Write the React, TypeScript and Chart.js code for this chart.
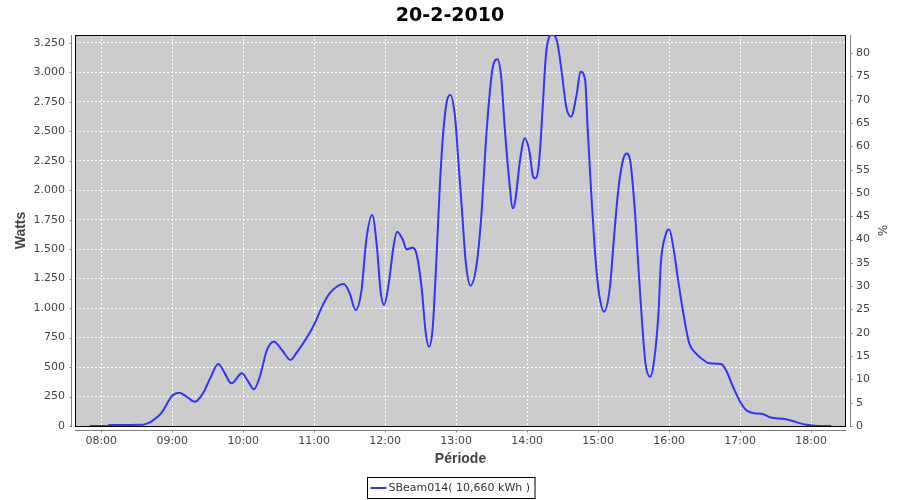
import React, { useEffect, useRef } from 'react';
import { Chart, registerables } from 'chart.js';

Chart.register(...registerables);

const TITLE = '20-2-2010';
const X_TITLE = 'Période';
const Y_TITLE = 'Watts';
const Y2_TITLE = '%';
const SERIES_NAME = 'SBeam014';
const SERIES_TOTAL = '10,660 kWh';

const TIMES = [
  '07:50', '08:05', '08:07', '08:34', '08:38', '08:42', '08:46', '08:50', '08:54', '08:57',
  '09:00', '09:06', '09:12', '09:19', '09:26', '09:32', '09:39', '09:44', '09:50', '09:59',
  '10:04', '10:09', '10:14', '10:20', '10:26', '10:33', '10:40', '10:45', '10:51', '10:59',
  '11:08', '11:13', '11:25', '11:30', '11:35', '11:40', '11:44', '11:49', '11:53', '11:56',
  '11:59', '12:03', '12:07', '12:10', '12:15', '12:18', '12:23', '12:26', '12:31', '12:34',
  '12:37', '12:40', '12:43', '12:46', '12:49', '12:52', '12:55', '12:59', '13:02', '13:05',
  '13:08', '13:12', '13:17', '13:21', '13:26', '13:31', '13:35', '13:38', '13:41', '13:44',
  '13:48', '13:50', '13:54', '13:58', '14:02', '14:05', '14:07', '14:10', '14:13', '14:16',
  '14:21', '14:25', '14:29', '14:33', '14:37', '14:42', '14:45', '14:49', '14:51', '14:54',
  '14:57', '15:00', '15:02', '15:05', '15:10', '15:13', '15:17', '15:21', '15:24', '15:27',
  '15:31', '15:34', '15:37', '15:40', '15:44', '15:47', '15:51', '15:53', '15:57', '16:00',
  '16:03', '16:08', '16:12', '16:17', '16:22', '16:31', '16:34', '16:44', '16:48', '16:54',
  '17:00', '17:05', '17:12', '17:19', '17:25', '17:39', '17:48', '17:56', '18:03', '18:17',
];

const WATTS = [
  0, 0, 8, 10, 18, 35, 65, 100, 160, 215,
  258, 282, 250, 206, 277, 404, 526, 455, 362, 447,
  380, 311, 418, 644, 715, 640, 560, 620, 706, 842,
  1040, 1125, 1204, 1125, 984, 1153, 1577, 1789, 1520, 1153,
  1026, 1210, 1520, 1648, 1577, 1498, 1512, 1478, 1153, 814,
  673, 814, 1351, 2000, 2482, 2750, 2807, 2623, 2227, 1817,
  1400, 1190, 1351, 1747, 2538, 3047, 3110, 2962, 2538, 2171,
  1846, 1917, 2256, 2440, 2326, 2114, 2100, 2227, 2680, 3160,
  3320, 3273, 3019, 2708, 2623, 2821, 3005, 2934, 2550, 2001,
  1520, 1180, 1050, 969, 1181, 1549, 2001, 2256, 2312, 2256,
  1832, 1351, 899, 532, 418, 532, 956, 1380, 1620, 1668,
  1549, 1210, 956, 701, 622, 545, 532, 526, 475, 333,
  206, 136, 108, 102, 74, 57, 31, 11, 3, 0,
];

const X_MIN_MINUTES = 457.8;
const X_MAX_MINUTES = 1109.5;
const Y_MAX_WATTS = 3316;
const Y2_MAX_PCT = 83.9;

const toMinutes = (s: string) => {
  const [h, m] = s.split(':').map(Number);
  return h * 60 + m;
};
const fmtTime = (v: number) => {
  const h = Math.floor(v / 60);
  const m = Math.round(v - h * 60);
  return `${String(h).padStart(2, '0')}:${String(m).padStart(2, '0')}`;
};
const fmtThousands = (v: number) =>
  v >= 1000 ? `${Math.floor(v / 1000)}.${String(v % 1000).padStart(3, '0')}` : String(v);

const TICK_FONT = { family: 'DejaVu Sans', size: 11 };
const TICK_COLOR = '#444444';
const AXIS_TITLE_FONT = { family: 'Liberation Sans', size: 14, weight: 'bold' as const };
const AXIS_COLOR = '#808080';

const framePlugin = {
  id: 'frame',
  beforeDraw(chart: any) {
    const { ctx, chartArea } = chart;
    const { left, top, right, bottom } = chartArea;
    ctx.save();
    ctx.fillStyle = '#ffffff';
    ctx.fillRect(0, 0, chart.width, chart.height);
    ctx.fillStyle = '#CCCCCC';
    ctx.fillRect(left, top, right - left, bottom - top);
    ctx.restore();
  },
  beforeDatasetsDraw(chart: any) {
    const { ctx, chartArea } = chart;
    const { left, top, right, bottom } = chartArea;
    ctx.save();
    ctx.strokeStyle = '#000000';
    ctx.lineWidth = 1;
    ctx.strokeRect(left + 0.5, top + 0.5, right - left - 1, bottom - top);
    ctx.restore();
  },
  afterDraw(chart: any) {
    const { ctx, chartArea, scales } = chart;
    const { left, top, right, bottom } = chartArea;
    ctx.save();
    ctx.strokeStyle = AXIS_COLOR;
    ctx.lineWidth = 1;
    ctx.beginPath();
    const lx = left - 4 + 0.5;
    ctx.moveTo(lx, top);
    ctx.lineTo(lx, bottom + 1);
    scales.y.ticks.forEach((t: any) => {
      const py = Math.round(scales.y.getPixelForValue(t.value)) + 0.5;
      ctx.moveTo(lx - 2, py);
      ctx.lineTo(lx, py);
    });
    const rx = right + 4 + 0.5;
    ctx.moveTo(rx, top);
    ctx.lineTo(rx, bottom + 1);
    scales.y1.ticks.forEach((t: any) => {
      const py = Math.round(scales.y1.getPixelForValue(t.value)) + 0.5;
      ctx.moveTo(rx, py);
      ctx.lineTo(rx + 2, py);
    });
    const by = bottom + 4 + 0.5;
    ctx.moveTo(left, by);
    ctx.lineTo(right, by);
    scales.x.ticks.forEach((t: any) => {
      const px = Math.round(scales.x.getPixelForValue(t.value)) + 0.5;
      ctx.moveTo(px, by);
      ctx.lineTo(px, by + 2);
    });
    ctx.stroke();

    const label = `${SERIES_NAME}( ${SERIES_TOTAL} )`;
    ctx.font = `${TICK_FONT.size}px "${TICK_FONT.family}"`;
    const tw = ctx.measureText(label).width;
    const boxW = tw + 26;
    const boxH = 21;
    const bx = Math.round((left + right) / 2 - boxW / 2) + 0.5 - 10;
    const byy = 477.5;
    ctx.fillStyle = '#ffffff';
    ctx.fillRect(bx, byy, boxW, boxH);
    ctx.strokeStyle = '#000000';
    ctx.strokeRect(bx, byy, boxW, boxH);
    ctx.strokeStyle = '#3333FF';
    ctx.lineWidth = 2;
    ctx.beginPath();
    ctx.moveTo(bx + 3, byy + 10.5);
    ctx.lineTo(bx + 19, byy + 10.5);
    ctx.stroke();
    ctx.fillStyle = '#333333';
    ctx.textBaseline = 'middle';
    ctx.textAlign = 'left';
    ctx.fillText(label, bx + 21, byy + 11);
    ctx.restore();
  },
};

export default function App() {
  const ref = useRef<HTMLCanvasElement | null>(null);

  useEffect(() => {
    if (!ref.current) return;
    const data = TIMES.map((t, i) => ({ x: toMinutes(t), y: WATTS[i] }));
    const chart = new Chart(ref.current, {
      type: 'line',
      data: {
        datasets: [
          {
            label: SERIES_NAME,
            data,
            borderColor: '#3333FF',
            borderWidth: 2,
            pointRadius: 0,
            fill: false,
            cubicInterpolationMode: 'monotone',
            yAxisID: 'y',
          },
        ],
      },
      options: {
        animation: false,
        responsive: false,
        devicePixelRatio: 1,
        events: [],
        layout: { padding: { top: 0, left: 0, right: 0, bottom: 30 } },
        plugins: {
          legend: { display: false },
          tooltip: { enabled: false },
          title: {
            display: true,
            text: TITLE,
            color: '#000000',
            font: { family: 'DejaVu Sans', size: 19, weight: 'bold' },
            padding: { top: 5, bottom: 7.2 },
          },
        },
        scales: {
          x: {
            type: 'linear',
            min: X_MIN_MINUTES,
            max: X_MAX_MINUTES,
            afterFit: (s: any) => { s.height = 44; },
            ticks: {
              stepSize: 60,
              includeBounds: false,
              autoSkip: false,
              maxRotation: 0,
              padding: 9,
              color: TICK_COLOR,
              font: TICK_FONT,
              callback: (v: any) => fmtTime(Number(v)),
            },
            grid: { color: '#ffffff', lineWidth: 1, drawTicks: false },
            border: { display: false, dash: [2, 2] },
            title: {
              display: true,
              text: X_TITLE,
              color: '#444444',
              font: AXIS_TITLE_FONT,
              padding: { top: 0, bottom: 2 },
            },
          },
          y: {
            type: 'linear',
            position: 'left',
            min: 0,
            max: Y_MAX_WATTS,
            afterFit: (s: any) => { s.width = 75; },
            ticks: {
              stepSize: 250,
              includeBounds: false,
              padding: 10,
              color: TICK_COLOR,
              font: TICK_FONT,
              callback: (v: any) => fmtThousands(Number(v)),
            },
            grid: { color: '#ffffff', lineWidth: 1, drawTicks: false },
            border: { display: false, dash: [2, 2] },
            title: {
              display: true,
              text: Y_TITLE,
              color: '#444444',
              font: AXIS_TITLE_FONT,
              padding: { top: 13, bottom: 0 },
            },
          },
          y1: {
            type: 'linear',
            position: 'right',
            min: 0,
            max: Y2_MAX_PCT,
            afterFit: (s: any) => { s.width = 54; },
            ticks: {
              stepSize: 5,
              includeBounds: false,
              padding: 10,
              color: TICK_COLOR,
              font: TICK_FONT,
            },
            grid: { drawOnChartArea: false, drawTicks: false },
            border: { display: false },
            title: {
              display: true,
              text: Y2_TITLE,
              color: '#444444',
              font: { family: 'DejaVu Sans', size: 12 },
              padding: { top: 12, bottom: 0 },
            },
          },
        },
      },
      plugins: [framePlugin],
    });
    return () => chart.destroy();
  }, []);

  return (
    <div style={{ position: 'fixed', left: 0, top: 0, width: 900, height: 500, background: '#fff' }}>
      <canvas ref={ref} width={900} height={500} style={{ width: 900, height: 500, display: 'block' }} />
    </div>
  );
}
